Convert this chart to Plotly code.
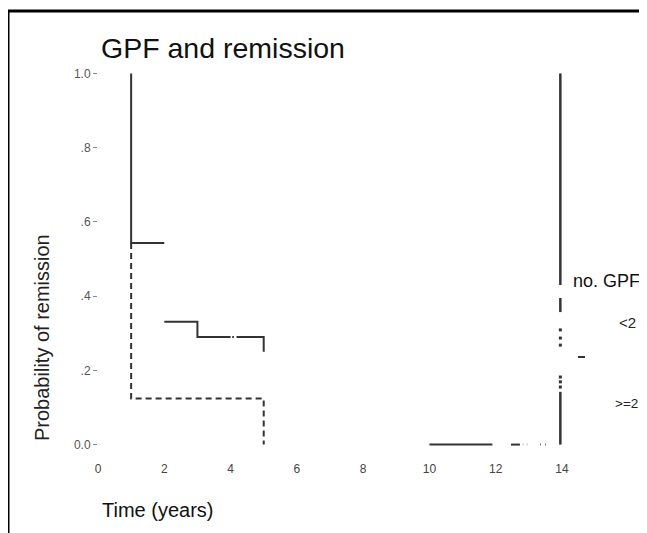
import plotly.graph_objects as go

# ---- data ----
x_ticks = [0, 2, 4, 6, 8, 10, 12, 14]
x_tick_text = ["0", "2", "4", "6", "8", "10", "12", "14"]
y_ticks = [0.0, 0.2, 0.4, 0.6, 0.8, 1.0]
y_tick_text = ["0.0", ".2", ".4", ".6", ".8", "1.0"]

# no. GPF < 2 (solid)
lt2_upper_t = [1, 1, 2]
lt2_upper_p = [1.0, 0.543, 0.543]
lt2_lower_t = [2, 3, 3, 4.0, None, 4.05, 4.1, None, 4.18, 5, 5]
lt2_lower_p = [0.331, 0.331, 0.29, 0.29, None, 0.29, 0.29, None, 0.29, 0.29, 0.25]

# no. GPF >= 2 (dashed)
ge2_t = [1, 1, 5, 5]
ge2_p = [0.543, 0.124, 0.124, 0.0]

# right-hand vertical trace (scan remnant at t ~ 14)
right_t = [13.95, 13.95, None, 13.95, 13.95, None, 13.95, 13.95]
right_p = [1.0, 0.43, None, 0.395, 0.357, None, 0.142, 0.0]
right_dot_t = [13.95, 13.95, 13.95, 13.95, 13.95, 13.95]
right_dot_p = [0.309, 0.287, 0.268, 0.182, 0.169, 0.155]

# bottom horizontal trace
bottom_t = [10.0, 11.9]
bottom_p = [0.0, 0.0]
bottom_dot_t = [12.28, None, 12.46, 12.73, None, 12.82, 12.83, None, 12.94, 12.95, None, 13.34, 13.36, None, 13.49, 13.51]
bottom_dot_p = [0.0, None, 0.0, 0.0, None, 0.0, 0.0, None, 0.0, 0.0, None, 0.0, 0.0, None, 0.0, 0.0]

line_col = "#333333"
FONT = "Liberation Sans, Arial, sans-serif"

fig = go.Figure()
fig.add_trace(go.Scatter(x=lt2_upper_t, y=lt2_upper_p, mode="lines",
                         line=dict(color=line_col, width=2), showlegend=False, hoverinfo="skip"))
fig.add_trace(go.Scatter(x=lt2_lower_t, y=lt2_lower_p, mode="lines",
                         line=dict(color=line_col, width=2), showlegend=False, hoverinfo="skip"))
fig.add_trace(go.Scatter(x=ge2_t, y=ge2_p, mode="lines",
                         line=dict(color=line_col, width=2, dash="6px,4px"), showlegend=False, hoverinfo="skip"))
fig.add_trace(go.Scatter(x=right_t, y=right_p, mode="lines",
                         line=dict(color=line_col, width=2.5), showlegend=False, hoverinfo="skip"))
fig.add_trace(go.Scatter(x=right_dot_t, y=right_dot_p, mode="markers",
                         marker=dict(color=line_col, size=3, symbol="square"), showlegend=False, hoverinfo="skip"))
fig.add_trace(go.Scatter(x=bottom_t, y=bottom_p, mode="lines",
                         line=dict(color=line_col, width=2), showlegend=False, hoverinfo="skip"))
fig.add_trace(go.Scatter(x=bottom_dot_t, y=bottom_dot_p, mode="lines",
                         line=dict(color=line_col, width=2), showlegend=False, hoverinfo="skip"))

# page has an 8px body margin: work in reference page pixels and convert
OFF = 8
W, H = 647 - OFF, 533 - OFF
L = 98 - OFF
T = 66 - OFF
B = 533 - 452
R = 0
px_per_year = (562 - 98) / 14.0
x_max = (W - L - R) / px_per_year

fig.update_layout(
    width=W, height=H,
    margin=dict(l=L, r=R, t=T, b=B),
    paper_bgcolor="white", plot_bgcolor="white",
    font=dict(family=FONT, color="#111111"),
    xaxis=dict(range=[0, x_max], tickvals=x_ticks, ticktext=x_tick_text,
               showgrid=False, zeroline=False, showline=False,
               ticks="outside", ticklen=6, tickcolor="rgba(0,0,0,0)",
               tickfont=dict(size=12, color="#444444", family=FONT)),
    yaxis=dict(range=[-0.02, 1.02], tickvals=y_ticks, ticktext=y_tick_text,
               showgrid=False, zeroline=False, showline=False,
               ticks="outside", ticklen=4, tickwidth=1, tickcolor="#888888",
               tickfont=dict(size=12, color="#555555", family=FONT)),
    showlegend=False,
)

def px_x(px):
    return (px - OFF - L) / (W - L - R)

def px_y(py):
    return (H - B - (py - OFF)) / (H - T - B)

annos = [
    dict(text="GPF and remission", x=px_x(99), y=px_y(48), xanchor="left", yanchor="middle",
         font=dict(size=28.5, color="#111111", family=FONT)),
    dict(text="Probability of remission", x=px_x(42), y=px_y(338), xanchor="center", yanchor="middle",
         textangle=-90, font=dict(size=20, color="#222222", family=FONT)),
    dict(text="Time (years)", x=px_x(100), y=px_y(510), xanchor="left", yanchor="middle",
         font=dict(size=20, color="#111111", family=FONT)),
    dict(text="no. GPF", x=px_x(571), y=px_y(281), xanchor="left", yanchor="middle",
         font=dict(size=18, color="#111111", family=FONT)),
    dict(text="&lt;2", x=px_x(617), y=px_y(323), xanchor="left", yanchor="middle",
         font=dict(size=15, color="#222222", family=FONT)),
    dict(text="&gt;=2", x=px_x(613), y=px_y(403), xanchor="left", yanchor="middle",
         font=dict(size=13.5, color="#222222", family=FONT)),
]
for a in annos:
    a.update(xref="paper", yref="paper", showarrow=False)
fig.update_layout(annotations=annos)

fig.update_layout(shapes=[
    # outer frame (left and top edges visible)
    dict(type="rect", xref="paper", yref="paper",
         x0=px_x(8), x1=px_x(670), y0=px_y(560), y1=px_y(11),
         line=dict(color="black", width=3), fillcolor="rgba(0,0,0,0)", layer="above"),
    # legend dash symbol
    dict(type="line", xref="paper", yref="paper",
         x0=px_x(578), x1=px_x(585), y0=px_y(357), y1=px_y(357),
         line=dict(color=line_col, width=2)),
])

fig.write_html("out.html")
